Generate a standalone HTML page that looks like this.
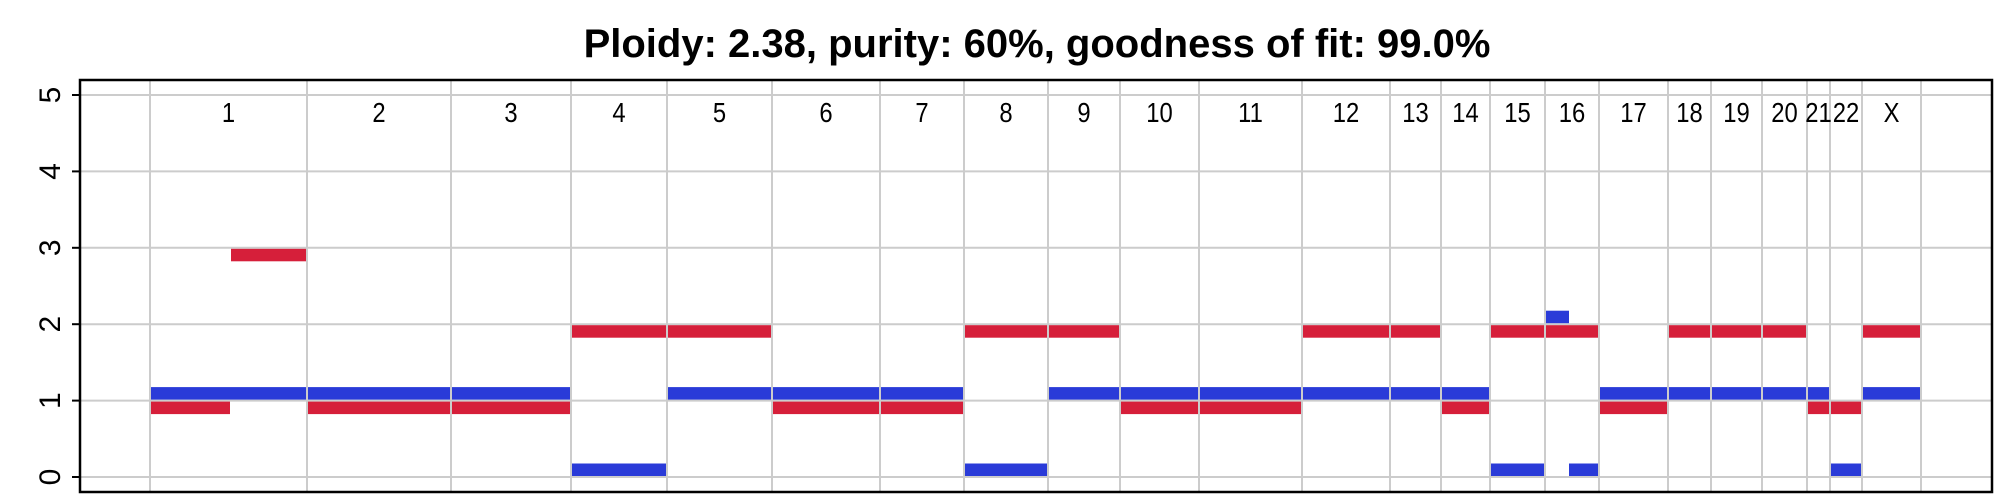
<!DOCTYPE html>
<html><head><meta charset="utf-8"><style>
html,body{margin:0;padding:0;background:#fff;}
svg{display:block;font-family:"Liberation Sans",Arial,sans-serif;}
</style></head><body>
<svg id="chart" width="2000" height="500" viewBox="0 0 2000 500" xmlns="http://www.w3.org/2000/svg">
<text x="1037" y="57" text-anchor="middle" font-size="40" font-weight="bold">Ploidy: 2.38, purity: 60%, goodness of fit: 99.0%</text>
<g id="grid"></g><g id="bars"></g><g id="axes"></g>
</svg>
<script>
const chromNames = ["1","2","3","4","5","6","7","8","9","10","11","12","13","14","15","16","17","18","19","20","21","22","X"];
const chromBounds = [0,157,301,421,517,622,730,814,898,970,1049,1152,1240,1291,1340,1395,1449,1518,1561,1612,1657,1680,1712,1771];
const yTicks = [0,1,2,3,4,5];
const majorStart = [0,80,157,301,421,517,622,730,814,898,970,1049,1152,1240,1291,1340,1395,1449,1518,1561,1612,1657,1680,1712];
const majorEnd   = [81,157,301,421,517,622,730,814,898,970,1049,1152,1240,1291,1340,1395,1449,1518,1561,1612,1657,1680,1712,1771];
const majorCN    = [1,3,1,1,2,2,1,1,2,2,1,1,2,2,1,2,2,1,2,2,2,1,1,2];
const minorStart = [0,157,301,421,517,622,730,814,898,970,1049,1152,1240,1291,1340,1395,1418,1449,1518,1561,1612,1657,1680,1712];
const minorEnd   = [157,301,421,517,622,730,814,898,970,1049,1152,1240,1291,1340,1395,1420,1449,1518,1561,1612,1657,1680,1712,1771];
const minorCN    = [1,1,1,0,1,1,1,0,1,1,1,1,1,1,0,2,0,1,1,1,1,1,0,1];

const NS="http://www.w3.org/2000/svg";
const L=80,R=1992,T=80,B=492;
const xS=u=>150+u;
const yS=v=>477-v*76.4;
function mk(tag,attrs,parent){const e=document.createElementNS(NS,tag);for(const k in attrs)e.setAttribute(k,attrs[k]);parent.appendChild(e);return e;}
const grid=document.getElementById('grid'),bars=document.getElementById('bars'),axes=document.getElementById('axes');
yTicks.forEach(v=>{
  const l=mk('line',{x1:L,x2:R,y1:yS(v),y2:yS(v),stroke:'#cccccc','stroke-width':2},grid);
  
  
  const t=mk('line',{x1:72,x2:L,y1:yS(v),y2:yS(v),stroke:'#000','stroke-width':2},axes);
  
  
  const tx=mk('text',{x:0,y:0,transform:`translate(60,${yS(v)}) rotate(-90)`,'text-anchor':'middle','font-size':30},axes);
  tx.textContent=v;
  
  
});
chromBounds.forEach(b=>{
  const l=mk('line',{x1:xS(b),x2:xS(b),y1:T,y2:B,stroke:'#cccccc','stroke-width':2},grid);
  
  
});
chromNames.forEach((n,i)=>{
  const cx=(xS(chromBounds[i])+xS(chromBounds[i+1]))/2;
  const t=mk('text',{x:0,y:0,transform:`translate(${cx},122) scale(0.85,1)`,'text-anchor':'middle','font-size':28},grid);
  t.textContent=n;
  
  
});
majorCN.forEach((v,i)=>{
  const r=mk('rect',{x:xS(majorStart[i])+1,y:yS(v)+1,width:xS(majorEnd[i])-xS(majorStart[i])-2,height:12.5,fill:'#d61f3a'},bars);
  
  
});
minorCN.forEach((v,i)=>{
  const r=mk('rect',{x:xS(minorStart[i])+1,y:yS(v)-13.5,width:xS(minorEnd[i])-xS(minorStart[i])-2,height:12.5,fill:'#2a3bd8'},bars);
  
  
});
const box=mk('rect',{x:L,y:T,width:R-L,height:B-T,fill:'none',stroke:'#000','stroke-width':2.5},axes);


</script>
</body></html>
